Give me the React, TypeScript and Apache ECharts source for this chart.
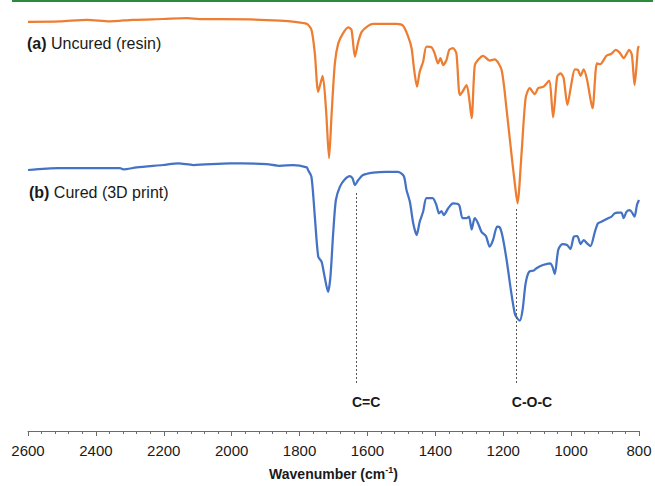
import React, { useEffect, useRef } from "react";
import * as echarts from "echarts";

// Wavenumbers (cm-1) and offset transmittance (a.u.)
const wnA = [2600, 2506, 2426, 2359, 2291, 2202, 2132, 2094, 2035, 1946, 1858, 1814, 1779, 1765, 1755, 1745, 1732, 1722, 1713, 1706, 1696, 1686, 1672, 1657, 1647, 1637, 1627, 1617, 1598, 1583, 1514, 1495, 1480, 1470, 1463, 1454, 1446, 1436, 1426, 1411, 1402, 1392, 1385, 1377, 1367, 1359, 1348, 1338, 1328, 1320, 1308, 1301, 1293, 1284, 1274, 1259, 1240, 1225, 1205, 1190, 1176, 1166, 1158, 1146, 1134, 1122, 1107, 1097, 1081, 1065, 1053, 1041, 1031, 1022, 1011, 999, 989, 980, 972, 963, 953, 937, 924, 914, 896, 881, 869, 857, 845, 829, 821, 813, 803, 800];
const tA = [102.3, 102.4, 102.8, 102.4, 102.8, 103.0, 103.2, 103.0, 103.0, 102.9, 102.6, 102.3, 101.8, 100.3, 94.4, 84.8, 88.8, 80.3, 68.2, 78.6, 91.9, 96.9, 99.4, 100.9, 100.3, 93.6, 97.3, 99.8, 101.3, 101.8, 101.8, 101.3, 98.6, 95.7, 90.7, 86.1, 89.8, 92.3, 96.1, 95.9, 94.4, 91.9, 93.2, 91.5, 92.8, 95.3, 95.7, 94.4, 84.0, 84.8, 86.5, 83.6, 78.2, 91.3, 92.8, 93.8, 92.6, 92.9, 90.3, 80.3, 69.4, 62.0, 56.9, 69.4, 83.2, 85.7, 84.2, 85.7, 86.1, 87.6, 78.4, 88.6, 89.4, 88.2, 81.5, 86.9, 90.4, 90.3, 88.8, 90.4, 87.8, 80.7, 91.9, 91.7, 93.8, 94.3, 95.3, 94.6, 93.2, 95.3, 94.0, 86.5, 95.7, 96.2];

const wnB = [2600, 2511, 2329, 2319, 2280, 2202, 2157, 2113, 2005, 1971, 1897, 1858, 1819, 1779, 1775, 1765, 1755, 1745, 1735, 1728, 1716, 1709, 1701, 1693, 1681, 1667, 1652, 1644, 1637, 1627, 1613, 1583, 1544, 1510, 1493, 1485, 1475, 1465, 1455, 1446, 1436, 1426, 1408, 1397, 1389, 1382, 1375, 1362, 1348, 1330, 1320, 1308, 1301, 1293, 1284, 1274, 1264, 1251, 1240, 1230, 1218, 1210, 1202, 1190, 1176, 1166, 1159, 1151, 1143, 1134, 1124, 1110, 1102, 1083, 1061, 1055, 1048, 1038, 1026, 1012, 1002, 992, 982, 972, 963, 953, 943, 930, 921, 911, 901, 891, 881, 872, 862, 852, 845, 837, 827, 819, 813, 806, 800];
const tB = [65.25, 65.7, 65.7, 65.4, 65.9, 66.5, 66.9, 66.5, 66.9, 66.9, 66.7, 66.3, 66.5, 65.9, 65.25, 63.6, 53.6, 43.6, 42.3, 39.4, 34.8, 38.6, 49.4, 57.75, 61.1, 62.9, 63.75, 63.2, 61.5, 62.75, 64.0, 64.6, 64.8, 64.8, 63.75, 60.25, 57.3, 51.9, 49.0, 52.3, 54.8, 58.2, 58.2, 56.5, 54.4, 55.0, 54.0, 55.7, 56.9, 56.5, 53.2, 53.2, 53.6, 50.4, 53.2, 51.9, 49.8, 48.75, 46.1, 47.75, 51.1, 50.9, 48.6, 42.75, 34.4, 29.4, 28.2, 27.6, 30.25, 36.9, 39.8, 40.1, 40.7, 41.5, 41.9, 41.1, 39.25, 45.25, 46.7, 46.5, 45.5, 48.6, 48.75, 46.75, 47.75, 46.9, 46.25, 49.8, 51.9, 52.3, 52.75, 53.2, 53.6, 54.4, 54.6, 54.6, 53.2, 54.8, 55.25, 54.4, 53.6, 56.5, 57.75];

// Peak annotations: label, wavenumber, top of dashed line, bottom of dashed line
const peakLabels = ["C=C", "C-O-C"];
const peakWn = [1634, 1163];
const peakTop = [59.5, 55.5];
const peakBottom = 11.5;

const seriesNames = ["(a) Uncured (resin)", "(b) Cured (3D print)"];

const FONT = "'Liberation Sans', Arial, sans-serif";

export default function App() {
  const ref = useRef<HTMLDivElement>(null);

  useEffect(() => {
    document.body.style.margin = "0";
    const chart = echarts.init(ref.current!, null, { renderer: "svg" });
    const dataA = wnA.map((w, i) => [w, tA[i]]);
    const dataB = wnB.map((w, i) => [w, tB[i]]);

    chart.setOption({
      animation: false,
      textStyle: { fontFamily: FONT },
      grid: { left: 28, right: 16, top: 11, bottom: 55 },
      xAxis: {
        type: "value",
        min: 800,
        max: 2600,
        interval: 200,
        inverse: true,
        splitLine: { show: false },
        axisLine: { lineStyle: { color: "#6b6b6b", width: 1 } },
        axisTick: { show: true, length: 5, lineStyle: { color: "#6b6b6b" } },
        minorTick: { show: true, splitNumber: 5, length: 3, lineStyle: { color: "#6b6b6b" } },
        axisLabel: {
          color: "#1a1a1a",
          fontSize: 15,
          margin: 12,
          fontFamily: FONT,
          formatter: (v: number) => String(v),
        },
        name: "{b|Wavenumber (cm}{s|-1}{b|)}",
        nameLocation: "middle",
        nameGap: 34,
        nameTextStyle: {
          rich: {
            b: { fontSize: 14, fontWeight: "bold", color: "#1a1a1a", fontFamily: FONT, lineHeight: 16, verticalAlign: "bottom" },
            s: { fontSize: 9, fontWeight: "bold", color: "#1a1a1a", fontFamily: FONT, lineHeight: 16, verticalAlign: "top" },
          },
        },
      },
      yAxis: { type: "value", min: 0, max: 105, show: false },
      series: [
        {
          name: seriesNames[0],
          type: "line",
          data: dataA,
          showSymbol: false,
          smooth: 0.25,
          lineStyle: { color: "#ED7D31", width: 2.25 },
        },
        {
          name: seriesNames[1],
          type: "line",
          data: dataB,
          showSymbol: false,
          smooth: 0.25,
          lineStyle: { color: "#4472C4", width: 2.25 },
          markLine: {
            silent: true,
            symbol: "none",
            label: { show: false },
            lineStyle: { type: [2, 2], color: "#555", width: 1 },
            data: peakWn.map((w, i) => [{ coord: [w, peakTop[i]] }, { coord: [w, peakBottom] }]),
          },
        },
      ],
    });

    const peakText = peakWn.map((w, i) => {
      const p = chart.convertToPixel({ gridIndex: 0 }, [w, peakBottom]) as number[];
      return {
        type: "text",
        x: p[0] - 4,
        y: p[1] + 17,
        style: {
          text: peakLabels[i],
          font: `bold 14px ${FONT}`,
          fill: "#1a1a1a",
          textAlign: "left",
          textVerticalAlign: "middle",
        },
      };
    });

    chart.setOption({
      graphic: [
        { type: "rect", shape: { x: 12, y: 0, width: 641, height: 2 }, style: { fill: "#2b8a3e" } },
        {
          type: "text",
          x: 27,
          y: 43,
          style: {
            text: "{b|(a)} Uncured (resin)",
            rich: { b: { fontWeight: "bold", fontSize: 16, fontFamily: FONT, fill: "#1a1a1a" } },
            font: `16px ${FONT}`,
            fill: "#1a1a1a",
            textVerticalAlign: "middle",
          },
        },
        {
          type: "text",
          x: 29,
          y: 192,
          style: {
            text: "{b|(b)} Cured (3D print)",
            rich: { b: { fontWeight: "bold", fontSize: 16, fontFamily: FONT, fill: "#1a1a1a" } },
            font: `16px ${FONT}`,
            fill: "#1a1a1a",
            textVerticalAlign: "middle",
          },
        },
        ...peakText,
      ],
    });

    return () => chart.dispose();
  }, []);

  return (
    <div
      ref={ref}
      style={{ position: "fixed", left: 0, top: 0, width: 655, height: 486, background: "#fff" }}
    />
  );
}
